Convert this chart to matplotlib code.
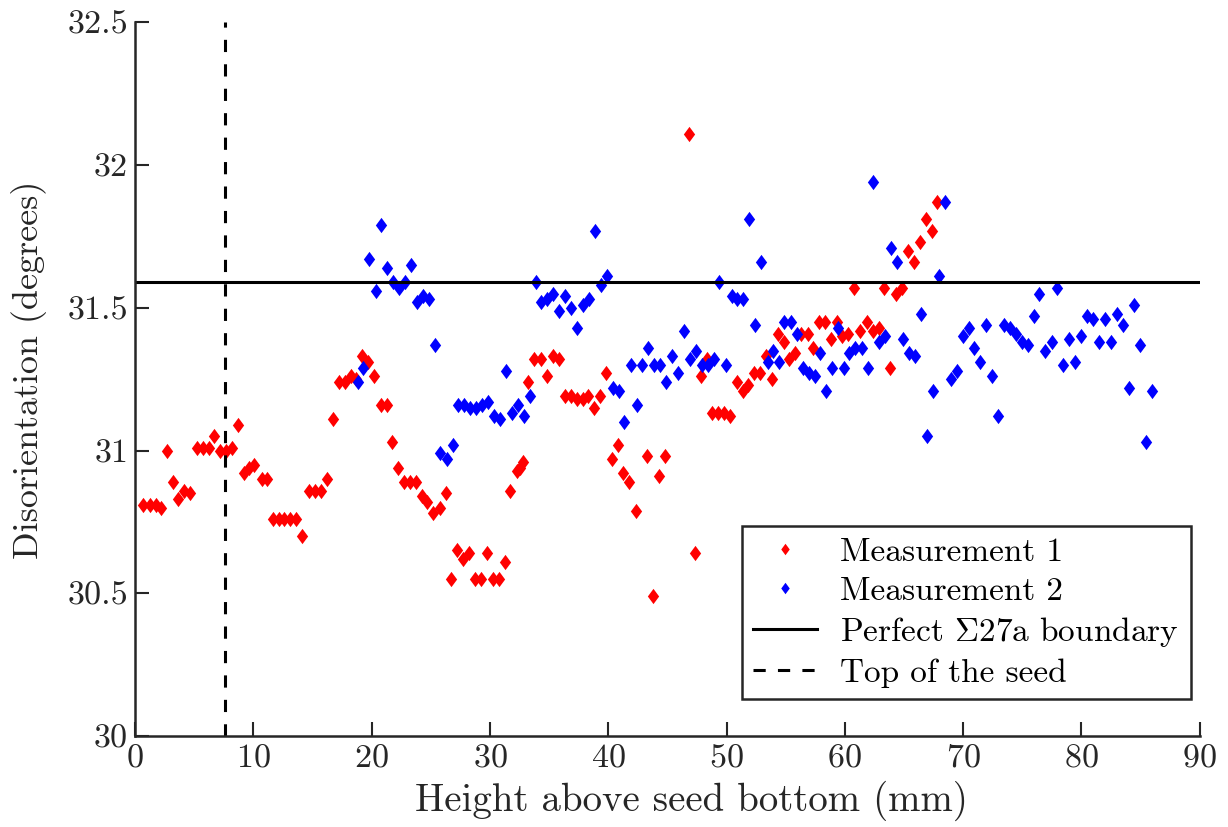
import numpy as np
import matplotlib
matplotlib.use("Agg")
import matplotlib.pyplot as plt

plt.rcParams['font.family'] = 'cmr10'
plt.rcParams['mathtext.fontset'] = 'cm'
plt.rcParams['axes.formatter.use_mathtext'] = True

# Measurement 1 (red)
x1 = [0.68, 1.27, 1.77, 2.20, 2.70, 3.21, 3.63, 4.14, 4.65, 5.24, 5.75, 6.25, 6.68, 7.18, 7.69, 8.20,
      8.70, 9.21, 9.63, 10.06, 10.73, 11.15, 11.66, 12.17, 12.59, 13.10, 13.61, 14.11, 14.70, 15.21,
      15.72, 16.23, 16.73, 17.24, 17.75, 18.25, 18.68, 19.18, 19.69, 20.20, 20.79, 21.30, 21.72,
      22.23, 22.73, 23.24, 23.75, 24.25, 24.68, 25.18, 25.78, 26.28, 26.70, 27.21, 27.72, 28.23,
      28.73, 29.24, 29.75, 30.25, 30.76, 31.27, 31.69, 32.28, 32.54, 32.79, 33.21, 33.72, 34.31,
      34.82, 35.32, 35.83, 36.34, 36.85, 37.35, 37.86, 38.28, 38.79, 39.30, 39.80, 40.31, 40.82,
      41.24, 41.75, 42.34, 43.27, 43.78, 44.28, 44.79, 46.82, 47.32, 47.83, 48.34, 48.76, 49.27,
      49.78, 50.28, 50.87, 51.38, 51.80, 52.31, 52.82, 53.32, 53.83, 54.34, 54.85, 55.27, 55.78,
      56.28, 56.88, 57.30, 57.80, 58.31, 58.82, 59.32, 59.75, 60.25, 60.76, 61.27, 61.86, 62.37,
      62.87, 63.30, 63.81, 64.31, 64.82, 65.33, 65.83, 66.34, 66.85, 67.35, 67.78]
y1 = [30.81, 30.81, 30.81, 30.80, 31.00, 30.89, 30.83, 30.86, 30.85, 31.01, 31.01, 31.01, 31.05,
      31.00, 31.00, 31.01, 31.09, 30.92, 30.94, 30.95, 30.90, 30.90, 30.76, 30.76, 30.76, 30.76,
      30.76, 30.70, 30.86, 30.86, 30.86, 30.90, 31.11, 31.24, 31.24, 31.26, 31.25, 31.33, 31.31,
      31.26, 31.16, 31.16, 31.03, 30.94, 30.89, 30.89, 30.89, 30.84, 30.82, 30.78, 30.80, 30.85,
      30.55, 30.65, 30.62, 30.64, 30.55, 30.55, 30.64, 30.55, 30.55, 30.61, 30.86, 30.93, 30.94,
      30.96, 31.24, 31.32, 31.32, 31.26, 31.33, 31.32, 31.19, 31.19, 31.18, 31.18, 31.19, 31.15,
      31.19, 31.27, 30.97, 31.02, 30.92, 30.89, 30.79, 30.98, 30.49, 30.91, 30.98, 32.11, 30.64,
      31.26, 31.32, 31.13, 31.13, 31.13, 31.12, 31.24, 31.21, 31.23, 31.27, 31.27, 31.33, 31.25,
      31.41, 31.38, 31.32, 31.34, 31.41, 31.41, 31.36, 31.45, 31.45, 31.39, 31.45, 31.40, 31.41,
      31.57, 31.42, 31.45, 31.42, 31.43, 31.57, 31.29, 31.55, 31.57, 31.70, 31.66, 31.73, 31.81,
      31.77, 31.87]

# Measurement 2 (blue)
x2 = [18.85, 19.27, 19.78, 20.37, 20.79, 21.30, 21.80, 22.31, 22.82, 23.32, 23.83, 24.34, 24.85,
      25.35, 25.78, 26.37, 26.87, 27.30, 27.80, 28.31, 28.82, 29.32, 29.83, 30.34, 30.85, 31.35,
      31.86, 32.37, 32.87, 33.38, 33.89, 34.31, 34.82, 35.32, 35.83, 36.34, 36.85, 37.35, 37.86,
      38.37, 38.87, 39.38, 39.89, 40.39, 40.90, 41.32, 41.92, 42.42, 42.85, 43.35, 43.86, 44.37,
      44.87, 45.38, 45.89, 46.40, 46.90, 47.41, 47.92, 48.42, 48.93, 49.35, 49.94, 50.45, 50.87,
      51.38, 51.89, 52.40, 52.90, 53.49, 53.92, 54.42, 54.85, 55.44, 55.94, 56.45, 56.96, 57.47,
      57.89, 58.40, 58.90, 59.41, 59.92, 60.34, 60.85, 61.44, 61.94, 62.37, 62.87, 63.38, 63.89,
      64.40, 64.90, 65.41, 65.92, 66.42, 66.93, 67.44, 67.94, 68.45, 68.96, 69.47, 69.97, 70.48,
      70.90, 71.41, 71.92, 72.42, 72.93, 73.44, 73.94, 74.45, 74.96, 75.47, 75.97, 76.40, 76.90,
      77.49, 77.92, 78.42, 78.93, 79.44, 79.94, 80.45, 80.96, 81.47, 81.97, 82.48, 82.99, 83.49,
      84.00, 84.42, 84.93, 85.44, 85.95]
y2 = [31.24, 31.29, 31.67, 31.56, 31.79, 31.64, 31.59, 31.57, 31.59, 31.65, 31.52, 31.54, 31.53,
      31.37, 30.99, 30.97, 31.02, 31.16, 31.16, 31.15, 31.15, 31.16, 31.17, 31.12, 31.11, 31.28,
      31.13, 31.16, 31.12, 31.19, 31.59, 31.52, 31.53, 31.55, 31.49, 31.54, 31.50, 31.43, 31.51,
      31.53, 31.77, 31.58, 31.61, 31.22, 31.21, 31.10, 31.30, 31.16, 31.30, 31.36, 31.30, 31.30,
      31.24, 31.33, 31.27, 31.42, 31.32, 31.35, 31.30, 31.30, 31.32, 31.59, 31.30, 31.54, 31.53,
      31.53, 31.81, 31.44, 31.66, 31.31, 31.35, 31.31, 31.45, 31.45, 31.41, 31.29, 31.27, 31.26,
      31.34, 31.21, 31.29, 31.43, 31.29, 31.34, 31.36, 31.36, 31.29, 31.94, 31.38, 31.40, 31.71,
      31.66, 31.39, 31.34, 31.33, 31.48, 31.05, 31.21, 31.61, 31.87, 31.25, 31.28, 31.40, 31.43,
      31.36, 31.31, 31.44, 31.26, 31.12, 31.44, 31.43, 31.41, 31.38, 31.37, 31.47, 31.55, 31.35,
      31.38, 31.57, 31.30, 31.39, 31.31, 31.40, 31.47, 31.46, 31.38, 31.46, 31.38, 31.48, 31.44,
      31.22, 31.51, 31.37, 31.03, 31.21]

sigma27a = 31.59   # perfect boundary misorientation
seed_top = 7.6     # mm

# slightly wide diamond, like the matlab one
diamond = [(0, 1), (0.74, 0), (0, -1), (-0.74, 0), (0, 1)]
dark = '#262626'

fig = plt.figure(figsize=(12.28, 8.27), dpi=100)
ax = fig.add_axes([0.110, 0.110, 0.867, 0.863])

ax.plot(x1, y1, linestyle='none', marker=diamond, color='red', markersize=11,
        markeredgewidth=0, label='Measurement 1')
ax.plot(x2, y2, linestyle='none', marker=diamond, color='blue', markersize=11,
        markeredgewidth=0, label='Measurement 2')
ax.axhline(sigma27a, color='black', linewidth=2.2, label=r'Perfect $\Sigma$27a boundary')
ax.axvline(seed_top, color='black', linewidth=2.2, linestyle=(0, (4, 4)), label='Top of the seed')

ax.set_xlim(0, 90)
ax.set_ylim(30, 32.5)
ax.set_xticks(np.arange(0, 91, 10))
ax.set_yticks([30, 30.5, 31, 31.5, 32, 32.5])
ax.set_yticklabels(['30', '30.5', '31', '31.5', '32', '32.5'])
ax.tick_params(direction='in', length=10, width=1.5, labelsize=24.5, colors=dark,
               labelcolor=dark, pad=5)
for s in ['top', 'right']:
    ax.spines[s].set_visible(False)
for s in ['left', 'bottom']:
    ax.spines[s].set_linewidth(1.8)
    ax.spines[s].set_color(dark)

ax.set_xlabel('Height above seed bottom (mm)', fontsize=28, color=dark)
ax.set_ylabel('Disorientation (degrees)', fontsize=26, color=dark)
ax.xaxis.set_label_coords(0.523, -0.062)
ax.yaxis.set_label_coords(-0.083, 0.513)

leg = ax.legend(loc='lower right', bbox_to_anchor=(1.007, 0.028), fontsize=24, markerscale=0.75,
                fancybox=False, edgecolor=dark, framealpha=1, handlelength=1.9,
                handletextpad=0.7, borderpad=0.35, labelspacing=0.28)
leg.get_frame().set_linewidth(1.8)

fig.savefig('out.png', dpi=100)
